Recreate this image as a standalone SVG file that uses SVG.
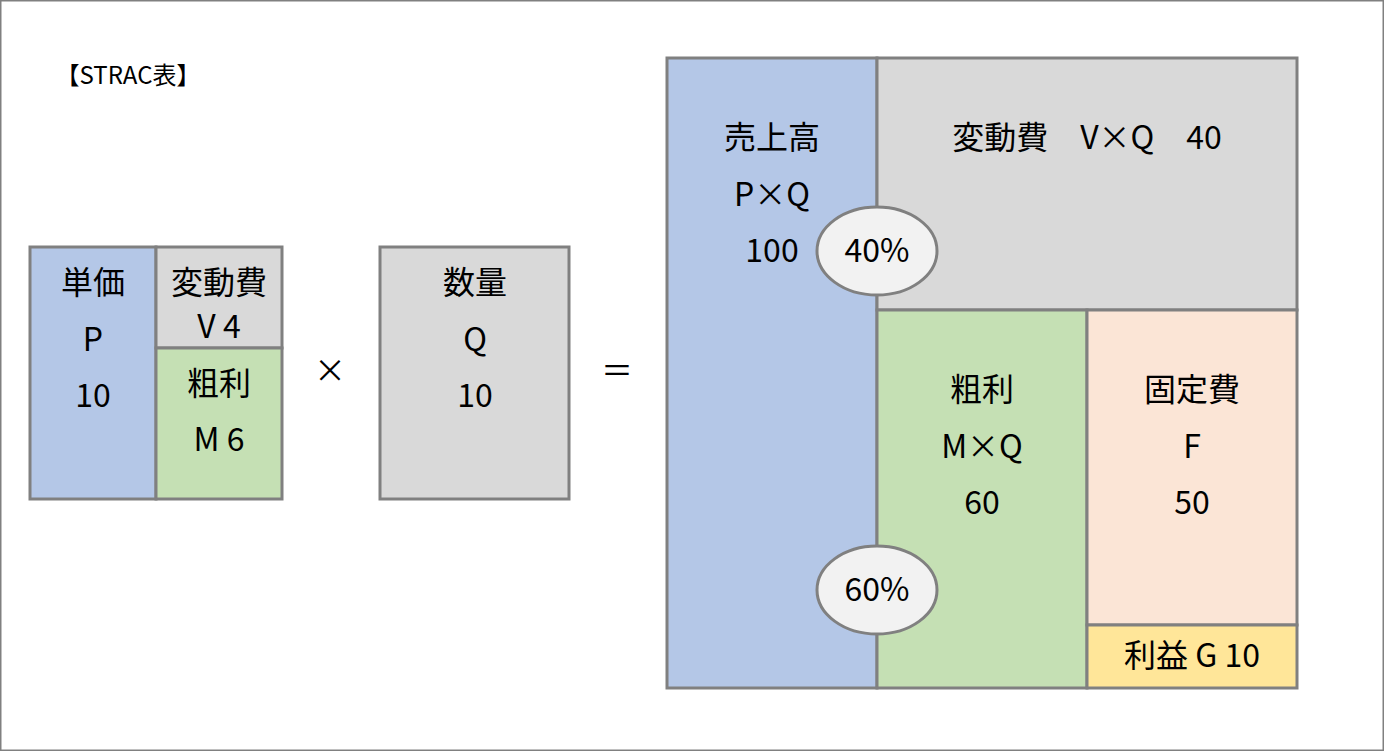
<svg xmlns="http://www.w3.org/2000/svg" width="1384" height="751" viewBox="0 0 1384 751">
<style>
rect{stroke:#808080;stroke-width:3}
text{font-family:"Noto Sans CJK JP","Noto Sans",sans-serif;font-size:32px;fill:#000;text-anchor:middle}
.b{fill:#B4C7E7}.g{fill:#D9D9D9}.gr{fill:#C5E0B4}.p{fill:#FBE5D6}.y{fill:#FFE699}
ellipse{fill:#F2F2F2;stroke:#808080;stroke-width:3}
</style>
<rect width="1384" height="751" fill="#fff" stroke="none"/>
<text x="128" y="84" style="font-size:24px">【STRAC表】</text>
<g id="tanka"><rect class="b" x="30" y="247" width="126" height="252"/>
<text x="93" y="294">単価</text><text x="93" y="351">P</text><text x="93" y="407">10</text></g>
<g id="hendo-s"><rect class="g" x="156" y="247" width="126" height="101"/>
<text x="219" y="294">変動費</text><text x="219" y="338">V 4</text></g>
<g id="arari-s"><rect class="gr" x="156" y="348" width="126" height="151"/>
<text x="219" y="395">粗利</text><text x="219" y="451">M 6</text></g>
<text x="330" y="382">×</text>
<g id="suryo"><rect class="g" x="380" y="247" width="189" height="252"/>
<text x="475" y="294">数量</text><text x="475" y="351">Q</text><text x="475" y="407">10</text></g>
<text x="617" y="382">＝</text>
<g id="uriage"><rect class="b" x="667" y="58" width="210" height="630"/>
<text x="772" y="149">売上高</text><text x="772" y="206">P×Q</text><text x="772" y="262">100</text></g>
<g id="hendo"><rect class="g" x="877" y="58" width="420" height="252"/>
<text x="1087" y="149" xml:space="preserve">変動費　V×Q　40</text></g>
<g id="arari"><rect class="gr" x="877" y="310" width="210" height="378"/>
<text x="982" y="401">粗利</text><text x="982" y="458">M×Q</text><text x="982" y="514">60</text></g>
<g id="kotei"><rect class="p" x="1087" y="310" width="210" height="315"/>
<text x="1192" y="401">固定費</text><text x="1192" y="458">F</text><text x="1192" y="514">50</text></g>
<g id="rieki"><rect class="y" x="1087" y="625" width="210" height="63"/>
<text x="1192" y="667">利益 G 10</text></g>
<g id="r40"><ellipse cx="877" cy="251" rx="60" ry="44"/><text x="877" y="262">40%</text></g>
<g id="r60"><ellipse cx="877" cy="590" rx="60" ry="44"/><text x="877" y="601">60%</text></g>
<g id="connectors"></g>
</svg>
